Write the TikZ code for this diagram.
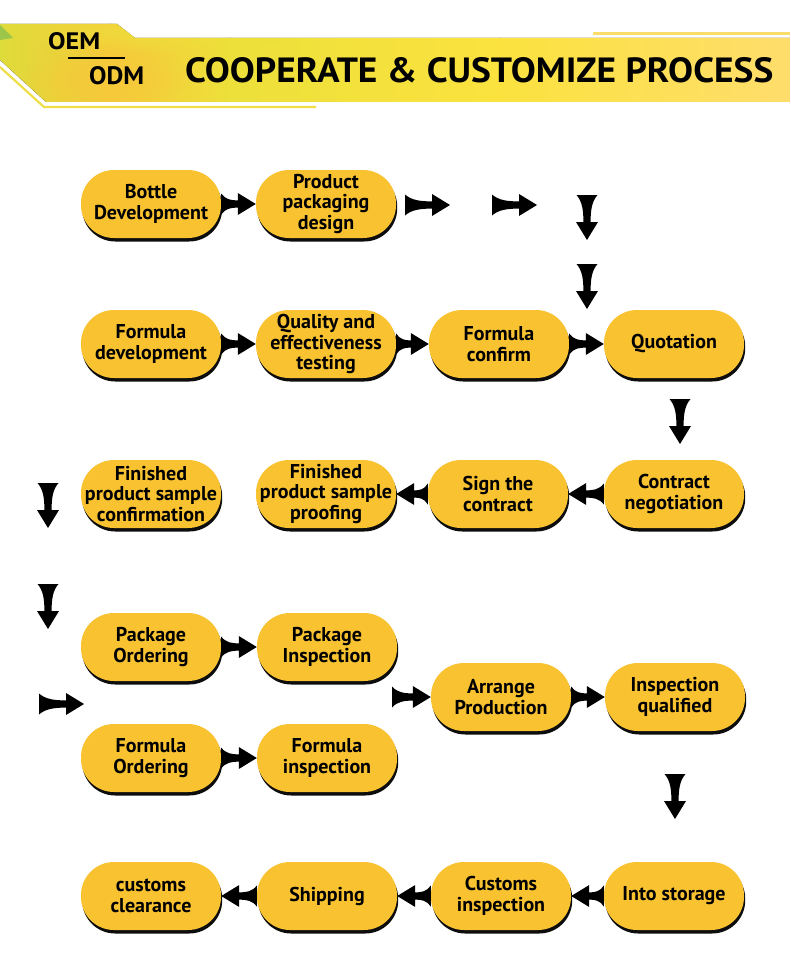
\documentclass[tikz,border=0pt]{standalone}
\usepackage{fontspec}
\usepackage{graphicx}
\setmainfont{PT Sans}
\newfontfamily\boldsans{PT Sans}[UprightFont=* Bold]
\usetikzlibrary{calc,shadows,fadings}
\definecolor{nodeY}{HTML}{F9C231}
\definecolor{bandA}{HTML}{DEDC3A}
\definecolor{bandB}{HTML}{F6C93A}
\definecolor{bandC}{HTML}{EDE03A}
\definecolor{bandD}{HTML}{FBE23F}
\definecolor{bandE}{HTML}{FFDD6C}
\definecolor{lineY}{HTML}{F0DE48}
\definecolor{lineT}{HTML}{F9DC6A}
\definecolor{leafG}{HTML}{9CC64A}
\tikzfading[name=blobfade, inner color=transparent!15, outer color=transparent!100]
\tikzset{
  pnode/.style={rectangle, rounded corners=33pt, minimum width=140pt, minimum height=68pt,
    inner xsep=0pt, inner ysep=0pt, fill=nodeY, align=center,
    font=\boldsans\fontsize{20}{20.8}\selectfont,
    drop shadow={shadow xshift=1.2pt, shadow yshift=-3.5pt, fill=black, opacity=0.95}},
  af/.style={shift={(\p1)}, rotate=\n1},
  fconn/.style={to path={
    let \p1=(\tikztostart), \p2=(\tikztotarget),
        \n1={atan2(\y2-\y1,\x2-\x1)}, \n2={veclen(\x2-\x1,\y2-\y1)},
        \n3={\n2-18pt} in
    ([af]0pt,10.5pt) .. controls ([af]{0.25*\n3+0pt},4.5pt) and ([af]{0.6*\n3+0pt},3.6pt) .. ([af]{\n3+0pt},3.6pt)
    -- ([af]{\n3+0pt},11pt) -- ([af]{\n2+0pt},0pt) -- ([af]{\n3+0pt},-11pt) -- ([af]{\n3+0pt},-3.6pt)
    .. controls ([af]{0.6*\n3+0pt},-3.6pt) and ([af]{0.25*\n3+0pt},-4.5pt) .. ([af]0pt,-10.5pt) -- cycle}},
  arrowfill/.style={fill=black}
}
\begin{document}
\begin{tikzpicture}[x=1pt,y=-1pt]
\useasboundingbox (0,0) rectangle (790,979);
\fill[white] (0,0) rectangle (790,979);
% ---- header band ----
\begin{scope}
\clip (0,24) -- (117,24) -- (135,38) -- (790,38) -- (790,102) -- (46,102) -- (0,60) -- cycle;
\fill[left color=bandA, right color=bandB] (-1,20) rectangle (110.5,110);
\fill[left color=bandB, right color=bandC] (110,20) rectangle (230.5,110);
\fill[left color=bandC, right color=bandD] (230,20) rectangle (500.5,110);
\fill[left color=bandD, right color=bandE] (500,20) rectangle (791,110);
\fill[bandC, path fading=blobfade] (150,32) ellipse [x radius=150pt, y radius=22pt];
\fill[bandB, path fading=blobfade] (105,80) ellipse [x radius=85pt, y radius=30pt];
\fill[leafG] (0,25) -- (13,38) -- (0,40) -- cycle;
\end{scope}
\draw[lineY, line width=2.2pt] (0,67) -- (44,107) -- (316,107);
\draw[lineT, line width=2.2pt] (593,33.5) -- (790,33.5);
\node[anchor=base west, inner sep=0pt] (oem) at (48,50) {\resizebox{52pt}{17pt}{\boldsans OEM}};
\draw[black, line width=1.6pt] (68,58) -- (125,58);
\node[anchor=base west, inner sep=0pt] (odm) at (89,85) {\resizebox{55pt}{18pt}{\boldsans ODM}};
\node[anchor=base west, inner sep=0pt] (title) at (185,83) {\resizebox{588pt}{25pt}{\boldsans COOPERATE \& CUSTOMIZE PROCESS}};
% ---- nodes ----
\node[pnode] (bottle) at (151,204) {Bottle\\Development};
\node[pnode] (pack) at (326,204) {Product\\packaging\\design};
\node[pnode] (fdev) at (151,344) {Formula\\development};
\node[pnode] (qual) at (326,344) {Quality and\\effectiveness\\testing};
\node[pnode] (fconf) at (499,344) {Formula\\confirm};
\node[pnode] (quot) at (674,344) {Quotation};
\node[pnode] (fpsc) at (151,494) {Finished\\product sample\\confirmation};
\node[pnode] (fpsp) at (326,494) {Finished\\product sample\\proofing};
\node[pnode] (sign) at (498,494) {Sign the\\contract};
\node[pnode] (cneg) at (674,494) {Contract\\negotiation};
\node[pnode] (pord) at (151,647) {Package\\Ordering};
\node[pnode] (pins) at (327,647) {Package\\Inspection};
\node[pnode] (ford) at (151,758) {Formula\\Ordering};
\node[pnode] (fins) at (327,758) {Formula\\inspection};
\node[pnode] (arr) at (501,697) {Arrange\\Production};
\node[pnode] (iq) at (675,697) {Inspection\\qualified};
\node[pnode] (cc) at (151,896) {customs\\clearance};
\node[pnode] (ship) at (327,896) {Shipping};
\node[pnode] (ci) at (501,896) {Customs\\inspection};
\node[pnode] (store) at (674,896) {Into storage};
% ---- free arrow ends ----
\coordinate (a1s) at (405,205); \coordinate (a1e) at (450,205);
\coordinate (a2s) at (492,205); \coordinate (a2e) at (537,205);
\coordinate (d1s) at (587,195); \coordinate (d1e) at (587,240);
\coordinate (d2s) at (587,264); \coordinate (d2e) at (587,309);
\coordinate (d3s) at (680,399); \coordinate (d3e) at (680,444);
\coordinate (d4s) at (48,483); \coordinate (d4e) at (48,528);
\coordinate (d5s) at (48,584); \coordinate (d5e) at (48,629);
\coordinate (h1s) at (39,704); \coordinate (h1e) at (84,704);
\coordinate (h2s) at (392,697);
\coordinate (d6s) at (675,774); \coordinate (d6e) at (675,819);
% ---- connectors ----
\fill[arrowfill] (bottle.east) to[fconn] (pack.west);
\fill[arrowfill] (a1s) to[fconn] (a1e);
\fill[arrowfill] (a2s) to[fconn] (a2e);
\fill[arrowfill] (d1s) to[fconn] (d1e);
\fill[arrowfill] (d2s) to[fconn] (d2e);
\fill[arrowfill] (fdev.east) to[fconn] (qual.west);
\fill[arrowfill] (qual.east) to[fconn] (fconf.west);
\fill[arrowfill] (fconf.east) to[fconn] (quot.west);
\fill[arrowfill] (d3s) to[fconn] (d3e);
\fill[arrowfill] (cneg.west) to[fconn] (sign.east);
\fill[arrowfill] (sign.west) to[fconn] (fpsp.east);
\fill[arrowfill] (d4s) to[fconn] (d4e);
\fill[arrowfill] (d5s) to[fconn] (d5e);
\fill[arrowfill] (h1s) to[fconn] (h1e);
\fill[arrowfill] (pord.east) to[fconn] (pins.west);
\fill[arrowfill] (ford.east) to[fconn] (fins.west);
\fill[arrowfill] (h2s) to[fconn] (arr.west);
\fill[arrowfill] (arr.east) to[fconn] (iq.west);
\fill[arrowfill] (d6s) to[fconn] (d6e);
\fill[arrowfill] (store.west) to[fconn] (ci.east);
\fill[arrowfill] (ci.west) to[fconn] (ship.east);
\fill[arrowfill] (ship.west) to[fconn] (cc.east);
\end{tikzpicture}
\end{document}
